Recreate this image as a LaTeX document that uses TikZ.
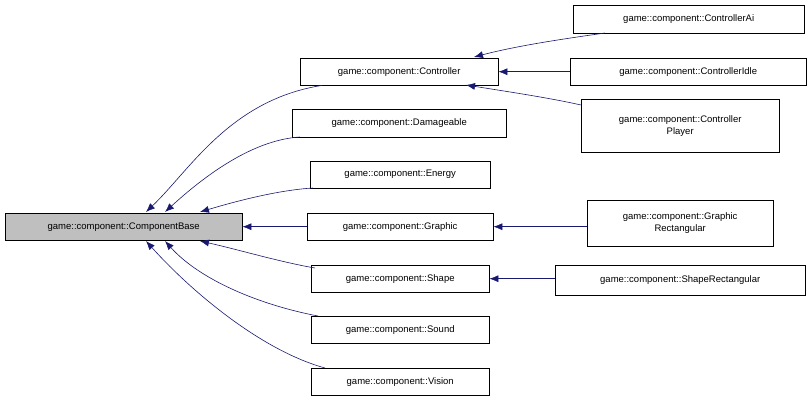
\documentclass[tikz,border=0pt]{standalone}
\usepackage{fontspec}
\setmainfont{Liberation Sans}
\usetikzlibrary{arrows.meta}
\definecolor{mb}{HTML}{191970}
\begin{document}
\begin{tikzpicture}[x=1pt,y=-1pt,
  box/.style={draw=black,fill=white,inner sep=0pt,anchor=north west,font=\fontsize{9.5}{12}\selectfont,align=center},
  ed/.style={draw=mb,line width=0.6pt,{Latex[length=9pt,width=7pt]}-}]
\useasboundingbox (0,0) rectangle (811,401);
\node[box,fill=black!25,minimum width=237,minimum height=27] (base) at (5,213) {game::component::ComponentBase};
\node[box,minimum width=198,minimum height=27] (ctrl) at (300,58) {game::component::Controller};
\node[box,minimum width=214,minimum height=28] (dmg) at (292,109) {game::component::Damageable};
\node[box,minimum width=180,minimum height=27] (en) at (310,161) {game::component::Energy};
\node[box,minimum width=186,minimum height=27] (gr) at (307,213) {game::component::Graphic};
\node[box,minimum width=178,minimum height=27] (sh) at (311,265) {game::component::Shape};
\node[box,minimum width=178,minimum height=27] (so) at (311,316) {game::component::Sound};
\node[box,minimum width=178,minimum height=27] (vi) at (311,368) {game::component::Vision};
\node[box,minimum width=231,minimum height=28] (cai) at (573,5) {game::component::ControllerAi};
\node[box,minimum width=236,minimum height=27] (cid) at (570,58) {game::component::ControllerIdle};
\node[box,minimum width=198,minimum height=53] (cpl) at (581,99) {game::component::Controller\\Player};
\node[box,minimum width=186,minimum height=46] (grr) at (587,200) {game::component::Graphic\\Rectangular};
\node[box,minimum width=250,minimum height=30] (shr) at (555,265) {game::component::ShapeRectangular};
\coordinate (b1) at (146,212); \coordinate (b2) at (165,212); \coordinate (b3) at (200,212);
\coordinate (b5) at (200,241); \coordinate (b6) at (165,241); \coordinate (b7) at (146,241);
\draw[ed] (b1) .. controls (190,170) and (230,100) .. (ctrl.south west -| 322,85);
\draw[ed] (b2) .. controls (200,180) and (250,140) .. (300,137);
\draw[ed] (b3) .. controls (240,200) and (280,190) .. (313,188);
\draw[ed] (base.east) -- (gr.west);
\draw[ed] (b5) .. controls (240,250) and (280,262) .. (315,268);
\draw[ed] (b6) .. controls (200,280) and (260,305) .. (318,316);
\draw[ed] (b7) .. controls (190,290) and (260,350) .. (325,368);
\draw[ed] (474,57) .. controls (520,45) and (570,38) .. (605,33);
\draw[ed] (ctrl.east) -- (cid.west);
\draw[ed] (466,85) .. controls (510,92) and (550,98) .. (581,105);
\draw[ed] (gr.east) -- (grr.west |- gr.east);
\draw[ed] (sh.east) -- (shr.west |- sh.east);
\end{tikzpicture}
\end{document}
